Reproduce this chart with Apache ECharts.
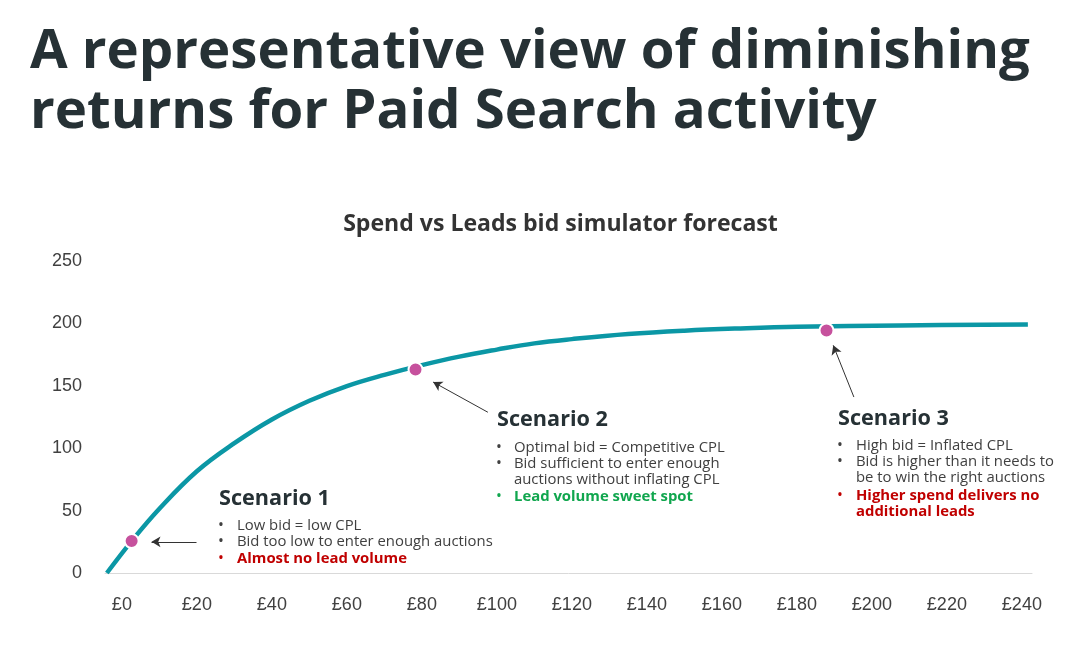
<!DOCTYPE html>
<html>
<head>
<meta charset="utf-8">
<script src="https://cdn.jsdelivr.net/npm/echarts@6/dist/echarts.min.js"></script>
<style>
html,body{margin:0;padding:0;background:#fff;}
#chart{width:1089px;height:645px;}
</style>
</head>
<body>
<div id="chart"></div>
<script>
// ---- data ----
const titleLines = ['A representative view of diminishing', 'returns for Paid Search activity'];
const chartTitle = 'Spend vs Leads bid simulator forecast';
const spend = [-4, 2.6, 10, 20, 30, 40, 50, 60, 70, 80, 90, 100, 110, 120, 135, 150, 165, 180, 207.5, 241.6];
const leads = [0, 25.6, 51.5, 81.5, 104, 123, 138, 149.8, 158.8, 166.6, 173.4, 179, 184, 187.4, 191.5, 194.2, 196, 197.3, 198.4, 199.2];
const scenarioSpend = [2.6, 78.3, 187.9];
const scenarioLeads = [25.6, 163, 194.4];
const arrowFrom = [[19.9, 25], [97.6, 128.8], [195.2, 141]];
const arrowTo = [[7.9, 25], [83, 153], [189.7, 182.4]];
const xTickValues = [0, 20, 40, 60, 80, 100, 120, 140, 160, 180, 200, 220, 240];
const scenarioTitles = ['Scenario 1', 'Scenario 2', 'Scenario 3'];
const scenario1Lines = ['Low bid = low CPL', 'Bid too low to enter enough auctions', 'Almost no lead volume'];
const scenario2Lines = ['Optimal bid = Competitive CPL', 'Bid sufficient to enter enough', 'auctions without inflating CPL', 'Lead volume sweet spot'];
const scenario3Lines = ['High bid = Inflated CPL', 'Bid is higher than it needs to', 'be to win the right auctions', 'Higher spend delivers no', 'additional leads'];

// ---- styling ----
const FAM = '"Open Sans", "Noto Sans", sans-serif';
const DARK = '#263135';
const GREY = '#404040';
const RED = '#C00000';
const GREEN = '#10A64E';
const TEAL = '#0B97A5';
const PINK = '#C6519D';
const AXISFONT = '"Liberation Sans", Arial, sans-serif';

const ctx = document.createElement('canvas').getContext('2d');
function fit(text, weight, width) {
  ctx.font = weight + ' 100px ' + FAM;
  return 100 * width / ctx.measureText(text).width;
}
function txt(text, x, y, size, weight, color, align) {
  return {type: 'text', x: x, y: y, silent: true,
    style: {text: text, fontSize: size, fontWeight: weight, fontFamily: FAM, fill: color,
      align: align || 'left', verticalAlign: 'middle'}};
}

const titleSize = fit(titleLines[0], 700, 1000);
const subSize = fit(chartTitle, 700, 435);
const headSize = fit(scenarioTitles[0], 700, 111);
const bodySize = fit(scenario1Lines[1], 400, 256);
const bulletSize = bodySize * 1.05;

const g = [];
g.push(txt(titleLines[0], 30, 52.5, titleSize, 700, DARK));
g.push(txt(titleLines[1], 30, 112.5, titleSize, 700, DARK));
g.push(txt(chartTitle, 560.5, 224.5, subSize, 700, '#333333', 'center'));

function block(title, lines, colors, weights, hx, hy, tx, ys) {
  g.push(txt(title, hx, hy, headSize, 700, DARK));
  lines.forEach(function (l, i) {
    g.push(txt(l, tx, ys[i], bodySize, weights[i], colors[i]));
  });
}
block(scenarioTitles[0], scenario1Lines, [GREY, GREY, RED], [400, 400, 700], 219, 499, 237, [526, 542, 559]);
block(scenarioTitles[1], scenario2Lines, [GREY, GREY, GREY, GREEN], [400, 400, 400, 700], 497, 419.5, 514, [447.7, 463.5, 480, 497]);
block(scenarioTitles[2], scenario3Lines, [GREY, GREY, GREY, RED, RED], [400, 400, 400, 700, 700], 838, 418.4, 856, [445.7, 461.3, 477.7, 495.3, 511.5]);
// bullets
[[221, [526, 542, 559], [GREY, GREY, RED]],
 [499, [447.7, 463.5, 497], [GREY, GREY, GREEN]],
 [840, [445.7, 461.3, 495.3], [GREY, GREY, RED]]].forEach(function (b) {
  b[1].forEach(function (y, i) { g.push(txt('\u2022', b[0], y, bulletSize, 400, b[2][i], 'center')); });
});

const chart = echarts.init(document.getElementById('chart'), null, {renderer: 'canvas'});
chart.setOption({
  backgroundColor: '#ffffff',
  animation: false,
  grid: {left: 105, right: 57, top: 261, bottom: 72},
  xAxis: {
    type: 'value', min: -4.5, max: 242.7,
    axisLine: {show: true, lineStyle: {color: '#D9D9D9', width: 1}},
    axisTick: {show: false},
    splitLine: {show: false},
    axisLabel: {customValues: xTickValues, formatter: function (v) { return '\u00A3' + v; },
      color: GREY, fontSize: 18, fontFamily: AXISFONT, margin: 23}
  },
  yAxis: {
    type: 'value', min: 0, max: 250, interval: 50,
    axisLine: {show: false}, axisTick: {show: false}, splitLine: {show: false},
    axisLabel: {color: GREY, fontSize: 18, fontFamily: AXISFONT, margin: 23}
  },
  series: [
    {
      type: 'line', data: spend.map(function (x, i) { return [x, leads[i]]; }),
      smooth: 0.4, symbol: 'none', z: 2,
      lineStyle: {color: TEAL, width: 4.5}
    },
    {
      type: 'scatter', data: scenarioSpend.map(function (x, i) { return [x, scenarioLeads[i]]; }),
      symbolSize: 14, z: 4,
      itemStyle: {color: PINK, borderColor: '#ffffff', borderWidth: 2, opacity: 1},
      markLine: {
        silent: true, animation: false,
        symbol: ['none', 'arrow'], symbolSize: [8, 9],
        label: {show: false},
        lineStyle: {color: '#333333', width: 1, type: 'solid'},
        emphasis: {disabled: true},
        data: arrowFrom.map(function (p, i) { return [{coord: p}, {coord: arrowTo[i]}]; })
      }
    }
  ],
  graphic: g
});
</script>
</body>
</html>
